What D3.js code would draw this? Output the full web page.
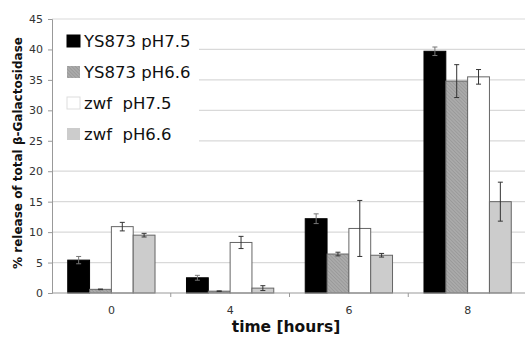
<!DOCTYPE html>
<html>
<head>
<meta charset="utf-8">
<script src="https://cdn.jsdelivr.net/npm/d3@7"></script>
<style>
  body { margin: 0; background: #fff; }
  svg { display: block; font-family: "DejaVu Sans", Verdana, sans-serif; }
</style>
</head>
<body>
<div id="chart"></div>
<script>
// data
var times = ["0", "4", "6", "8"];
var seriesNames = ["YS873 pH7.5", "YS873 pH6.6", "zwf  pH7.5", "zwf  pH6.6"];
var ys873_75 = [5.4, 2.5, 12.2, 39.7];
var ys873_66 = [0.6, 0.3, 6.4, 34.8];
var zwf_75 = [10.9, 8.3, 10.6, 35.5];
var zwf_66 = [9.5, 0.8, 6.2, 15.0];
var err_ys873_75 = [0.6, 0.4, 0.8, 0.7];
var err_ys873_66 = [0.05, 0.05, 0.3, 2.7];
var err_zwf_75 = [0.7, 1.0, 4.6, 1.2];
var err_zwf_66 = [0.3, 0.4, 0.3, 3.2];
var yTicks = [0, 5, 10, 15, 20, 25, 30, 35, 40, 45];

var values = [ys873_75, ys873_66, zwf_75, zwf_66];
var errors = [err_ys873_75, err_ys873_66, err_zwf_75, err_zwf_66];

var w = 525, h = 337;
var margin = { top: 19, left: 52 };
var width = 475;   // runs a little past the right edge, like the original
var height = 274;

var svg = d3.select("#chart").append("svg")
    .attr("width", w)
    .attr("height", h);

// hatch for the YS873 pH6.6 bars
var defs = svg.append("defs");
var pat = defs.append("pattern")
    .attr("id", "hatch")
    .attr("patternUnits", "userSpaceOnUse")
    .attr("width", 2.5)
    .attr("height", 2.5)
    .attr("patternTransform", "rotate(-45)");
pat.append("rect").attr("width", 2.5).attr("height", 2.5).attr("fill", "#aaaaaa");
pat.append("line").attr("x1", 0).attr("y1", 0).attr("x2", 0).attr("y2", 2.5)
    .attr("stroke", "#8a8a8a").attr("stroke-width", 0.9);

var fills = ["#000000", "url(#hatch)", "#ffffff", "#cccccc"];
var strokes = ["#000000", "#666666", "#666666", "#666666"];

var g = svg.append("g")
    .attr("transform", "translate(" + margin.left + "," + margin.top + ")");

var x = d3.scaleBand().domain(times).range([0, width]).paddingInner(0).paddingOuter(0);
var xs = d3.scaleBand().domain(d3.range(4)).range([0, x.bandwidth() * 0.735]);
var y = d3.scaleLinear().domain([0, 45]).range([height, 0]);

// gridlines
g.append("g").selectAll("line")
    .data(yTicks.filter(function(d) { return d > 0; }))
    .enter().append("line")
    .attr("x1", 0).attr("x2", width)
    .attr("y1", function(d) { return y(d); })
    .attr("y2", function(d) { return y(d); })
    .attr("stroke", "#d9d9d9")
    .attr("stroke-width", 1.2);

// bars
var groupOff = (x.bandwidth() - x.bandwidth() * 0.735) / 2;
var groups = g.append("g").selectAll("g")
    .data(times)
    .enter().append("g")
    .attr("transform", function(d) { return "translate(" + (x(d) + groupOff) + ",0)"; });

groups.each(function(t, ti) {
    var grp = d3.select(this);
    for (var s = 0; s < 4; s++) {
        var v = values[s][ti];
        grp.append("rect")
            .attr("x", xs(s))
            .attr("y", y(v))
            .attr("width", xs.bandwidth())
            .attr("height", y(0) - y(v))
            .attr("fill", fills[s])
            .attr("stroke", strokes[s])
            .attr("stroke-width", 1);
    }
    for (var s2 = 0; s2 < 4; s2++) {
        var v2 = values[s2][ti], e = errors[s2][ti];
        var cx = xs(s2) + xs.bandwidth() / 2;
        var col = s2 === 0 ? "#777" : "#333";
        grp.append("line")
            .attr("x1", cx).attr("x2", cx)
            .attr("y1", y(v2 + e)).attr("y2", y(v2 - e))
            .attr("stroke", col).attr("stroke-width", 1);
        [v2 + e, v2 - e].forEach(function(yy) {
            grp.append("line")
                .attr("x1", cx - 2.5).attr("x2", cx + 2.5)
                .attr("y1", y(yy)).attr("y2", y(yy))
                .attr("stroke", col).attr("stroke-width", 1);
        });
    }
});

// axes
var yAxis = g.append("g")
    .call(d3.axisLeft(y).tickValues(yTicks).tickSize(4).tickPadding(5));
yAxis.select(".domain").attr("stroke", "#999");
yAxis.selectAll(".tick line").attr("stroke", "#999");
yAxis.selectAll("text").attr("fill", "#333").style("font-size", "11px")
    .style("font-family", "DejaVu Sans, sans-serif");

var xAxis = g.append("g")
    .attr("transform", "translate(0," + height + ")");
xAxis.append("line")
    .attr("x1", 0).attr("x2", width).attr("y1", 0).attr("y2", 0)
    .attr("stroke", "#999");
xAxis.selectAll(".bt")
    .data(times.slice(1))
    .enter().append("line")
    .attr("x1", function(d) { return x(d); })
    .attr("x2", function(d) { return x(d); })
    .attr("y1", 0).attr("y2", 4)
    .attr("stroke", "#999");
xAxis.selectAll("text")
    .data(times)
    .enter().append("text")
    .attr("x", function(d) { return x(d) + x.bandwidth() / 2; })
    .attr("y", 21)
    .attr("text-anchor", "middle")
    .attr("fill", "#333")
    .style("font-size", "11px")
    .text(function(d) { return d; });

// axis titles
svg.append("text")
    .attr("transform", "translate(22,153) rotate(-90)")
    .attr("text-anchor", "middle")
    .style("font-size", "12px")
    .style("font-weight", "bold")
    .attr("fill", "#111")
    .text("% release of total β-Galactosidase");

svg.append("text")
    .attr("x", 286)
    .attr("y", 332)
    .attr("text-anchor", "middle")
    .style("font-size", "15.5px")
    .style("font-weight", "bold")
    .attr("fill", "#111")
    .text("time [hours]");

// legend, white box over the gridlines
var leg = g.append("g");
leg.append("rect")
    .attr("x", 1).attr("y", 4)
    .attr("width", 146).attr("height", 133)
    .attr("fill", "#fff");
seriesNames.forEach(function(name, i) {
    var ly = 22 + i * 31;
    leg.append("rect")
        .attr("x", 15).attr("y", ly - 6)
        .attr("width", 13).attr("height", 12)
        .attr("fill", fills[i])
        .attr("stroke", i === 0 ? "#000" : (i === 2 ? "#ddd" : "none"));
    leg.append("text")
        .attr("x", 32).attr("y", ly + 6)
        .attr("fill", "#111")
        .style("font-size", "16.5px")
        .style("white-space", "pre")
        .attr("xml:space", "preserve")
        .text(name);
});
</script>
</body>
</html>
